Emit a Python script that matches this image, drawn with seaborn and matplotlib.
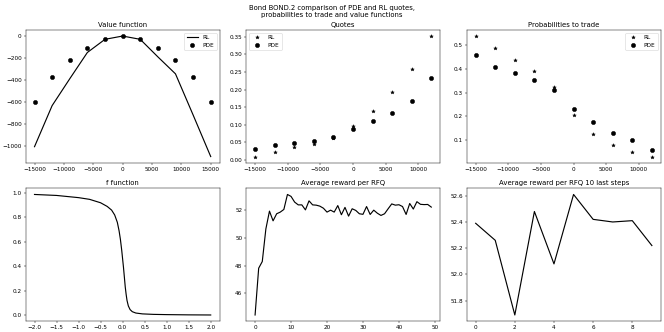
import numpy as np
import pandas as pd
import matplotlib
matplotlib.use("Agg")
import matplotlib.pyplot as plt
import seaborn as sns

# ---- data ----
inv_value = [-15000, -12000, -9000, -6000, -3000, 0, 3000, 6000, 9000, 12000, 15000]
value_rl = [-1010, -635, -390, -150, -30, 0, -30, -190, -345, -720, -1100]
value_pde = [-605, -370, -215, -105, -30, 0, -30, -105, -215, -370, -605]

inv_quotes = [-15000, -12000, -9000, -6000, -3000, 0, 3000, 6000, 9000, 12000]
quotes_rl = [0.010, 0.024, 0.036, 0.047, 0.063, 0.097, 0.140, 0.192, 0.258, 0.352]
quotes_pde = [0.031, 0.042, 0.048, 0.055, 0.065, 0.087, 0.110, 0.135, 0.167, 0.234]

prob_rl = [0.540, 0.490, 0.440, 0.392, 0.325, 0.205, 0.125, 0.080, 0.050, 0.030]
prob_pde = [0.458, 0.410, 0.384, 0.353, 0.312, 0.233, 0.175, 0.131, 0.098, 0.058]

f_x = [-2.0, -1.5, -1.0, -0.75, -0.5, -0.35, -0.25, -0.18, -0.12, -0.08, -0.05,
       -0.02, 0.0, 0.02, 0.04, 0.06, 0.08, 0.10, 0.13, 0.17, 0.22, 0.30, 0.45,
       0.70, 1.0, 1.5, 2.0]
f_y = [0.988, 0.980, 0.962, 0.948, 0.920, 0.890, 0.860, 0.820, 0.760, 0.690, 0.620,
       0.530, 0.460, 0.390, 0.310, 0.230, 0.170, 0.120, 0.075, 0.045, 0.028, 0.017,
       0.010, 0.006, 0.004, 0.002, 0.001]

reward = [44.45, 47.82, 48.30, 50.65, 51.93, 51.23, 51.74, 51.86, 52.05, 53.13,
          52.99, 52.58, 52.38, 52.38, 52.02, 52.67, 52.38, 52.36, 52.29, 52.14,
          51.86, 52.00, 51.86, 52.33, 51.67, 52.20, 51.57, 52.10, 51.98, 51.74,
          51.70, 52.26, 51.69, 52.00, 51.78, 51.62, 51.74, 52.10, 52.45, 52.36,
          52.39, 52.26, 51.69, 52.48, 52.08, 52.61, 52.42, 52.40, 52.41, 52.22]
steps = list(range(len(reward)))
last_steps = list(range(10))
reward_last = reward[-10:]

LW = 2.0
DOT = 7.5
STAR = 6.5

# ---- figure (16x8 in at 41.5 dpi -> 664x332 px) ----
fig, axes = plt.subplots(2, 3, figsize=(16, 8), dpi=41.5)
fig.subplots_adjust(left=0.0387, right=0.995, top=0.9096, bottom=0.0331,
                    wspace=0.138, hspace=0.195)
fig.suptitle("Bond BOND.2 comparison of PDE and RL quotes,\n"
             "probabilities to trade and value functions", y=0.985)

# Value function
ax = axes[0, 0]
sns.lineplot(x=inv_value, y=value_rl, ax=ax, color="k", linewidth=LW, label="RL")
sns.lineplot(x=inv_value, y=value_pde, ax=ax, color="k", marker="o", markersize=DOT,
             linestyle="", markeredgecolor="k", label="PDE")
ax.set_title("Value function")
ax.legend(loc="upper right")

# Quotes
ax = axes[0, 1]
sns.lineplot(x=inv_quotes, y=quotes_rl, ax=ax, color="k", marker="*", markersize=STAR,
             linestyle="", markeredgecolor="k", label="RL")
sns.lineplot(x=inv_quotes, y=quotes_pde, ax=ax, color="k", marker="o", markersize=DOT,
             linestyle="", markeredgecolor="k", label="PDE")
ax.set_title("Quotes")
ax.legend(loc="upper left")

# Probabilities to trade
ax = axes[0, 2]
sns.lineplot(x=inv_quotes, y=prob_rl, ax=ax, color="k", marker="*", markersize=STAR,
             linestyle="", markeredgecolor="k", label="RL")
sns.lineplot(x=inv_quotes, y=prob_pde, ax=ax, color="k", marker="o", markersize=DOT,
             linestyle="", markeredgecolor="k", label="PDE")
ax.set_title("Probabilities to trade")
ax.legend(loc="upper right")

# f function
ax = axes[1, 0]
sns.lineplot(x=f_x, y=f_y, ax=ax, color="k", linewidth=LW)
ax.set_title("f function")

# Average reward per RFQ
ax = axes[1, 1]
sns.lineplot(x=steps, y=reward, ax=ax, color="k", linewidth=LW)
ax.set_title("Average reward per RFQ")

# Average reward per RFQ 10 last steps
ax = axes[1, 2]
sns.lineplot(x=last_steps, y=reward_last, ax=ax, color="k", linewidth=LW)
ax.set_title("Average reward per RFQ 10 last steps")

fig.savefig("out.png", dpi=41.5)
